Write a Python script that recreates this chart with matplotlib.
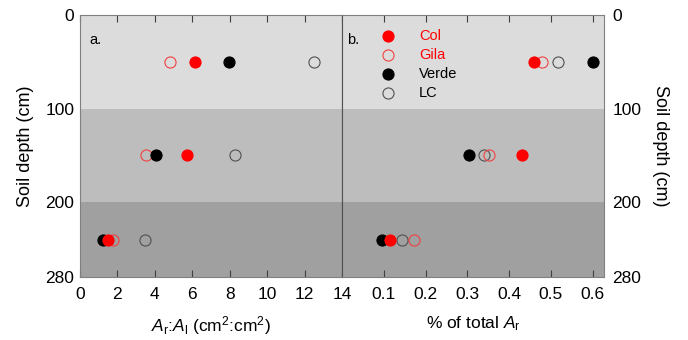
import matplotlib
matplotlib.use("Agg")
import matplotlib.pyplot as plt

plt.rcParams['font.family'] = ['Liberation Sans', 'DejaVu Sans']
plt.rcParams['mathtext.fontset'] = 'custom'
plt.rcParams['mathtext.rm'] = 'Liberation Sans'
plt.rcParams['mathtext.it'] = 'Liberation Sans:italic'

depths = [50, 150, 240]
series = ["Col", "Gila", "Verde", "LC"]
# Ar:Al ratio (panel a)
ratio_col = [6.15, 5.74, 1.51]
ratio_gila = [4.81, 3.53, 1.78]
ratio_verde = [7.95, 4.04, 1.25]
ratio_lc = [12.52, 8.28, 3.49]
# % of total Ar (panel b)
pct_col = [0.460, 0.430, 0.114]
pct_gila = [0.478, 0.352, 0.173]
pct_verde = [0.600, 0.305, 0.096]
pct_lc = [0.516, 0.340, 0.144]

band_edges = [0, 100, 200, 280]
band_colors = ['#dcdcdc', '#bdbdbd', '#a0a0a0']

styles = {
    "Col": dict(mfc='#ff0000', mec='#ff0000', mew=0.8),
    "Gila": dict(mfc='none', mec='#f04040', mew=0.8),
    "Verde": dict(mfc='black', mec='black', mew=0.8),
    "LC": dict(mfc='none', mec='#505050', mew=0.8),
}
text_colors = {"Col": '#ff0000', "Gila": '#ff0000', "Verde": 'black', "LC": 'black'}

fig = plt.figure(figsize=(6.88, 3.40), dpi=100)
axa = fig.add_axes([80/688, 63/340, 262/688, 262/340])
axb = fig.add_axes([342/688, 63/340, 262/688, 262/340])

data_a = {"Col": ratio_col, "Gila": ratio_gila, "Verde": ratio_verde, "LC": ratio_lc}
data_b = {"Col": pct_col, "Gila": pct_gila, "Verde": pct_verde, "LC": pct_lc}
order = ["LC", "Gila", "Verde", "Col"]

for ax, data in [(axa, data_a), (axb, data_b)]:
    for i in range(3):
        ax.axhspan(band_edges[i], band_edges[i+1], color=band_colors[i], zorder=0, lw=0)
    for s in order:
        ax.plot(data[s], depths, 'o', ms=8, ls='none', zorder=3, **styles[s])
    ax.set_ylim(280, 0)
    ax.set_yticks([0, 100, 200, 280])
    for sp in ax.spines.values():
        sp.set_color('#808080')
    ax.tick_params(axis='both', labelsize=12.5, colors='black')
    ax.tick_params(axis='x', direction='in', top=True, length=5, color='#404040', pad=7)
    ax.tick_params(axis='y', length=0, pad=4)

axa.set_xlim(0, 14)
axa.set_xticks(range(0, 15, 2))
axa.set_xticklabels([str(v) for v in range(0, 15, 2)])
axa.set_ylabel('Soil depth (cm)', fontsize=13, labelpad=8)
axa.set_xlabel(r'$\mathit{A}_\mathrm{r}$:$\mathit{A}_\mathrm{l}$ (cm$^2$:cm$^2$)', fontsize=12.5, labelpad=9)
axa.text(0.035, 0.93, 'a.', transform=axa.transAxes, fontsize=10.5, va='top')

axb.set_xlim(0, 0.627)
axb.set_xticks([0.1, 0.2, 0.3, 0.4, 0.5, 0.6])
axb.set_xticklabels(['0.1', '0.2', '0.3', '0.4', '0.5', '0.6'])
axb.yaxis.tick_right()
axb.yaxis.set_label_position('right')
axb.tick_params(axis='y', left=False, right=True, labelleft=False, labelright=True, length=0, pad=6)
axb.set_ylabel('Soil depth (cm)', fontsize=13, rotation=270, labelpad=20)
axb.set_xlabel(r'% of total $\mathit{A}_\mathrm{r}$', fontsize=12.5, labelpad=9)
axb.text(0.02, 0.93, 'b.', transform=axb.transAxes, fontsize=10.5, va='top')
axa.spines['right'].set_color('#505050')
axb.spines['left'].set_color('#505050')

# legend
leg_y = [22.4, 42.7, 63, 83.4]
for s, y in zip(series, leg_y):
    axb.plot([0.110], [y], 'o', ms=8, ls='none', zorder=4, **styles[s])
    axb.text(0.184, y, s, fontsize=10.5, color=text_colors[s], va='center', ha='left')

fig.savefig('out.png', dpi=100)
